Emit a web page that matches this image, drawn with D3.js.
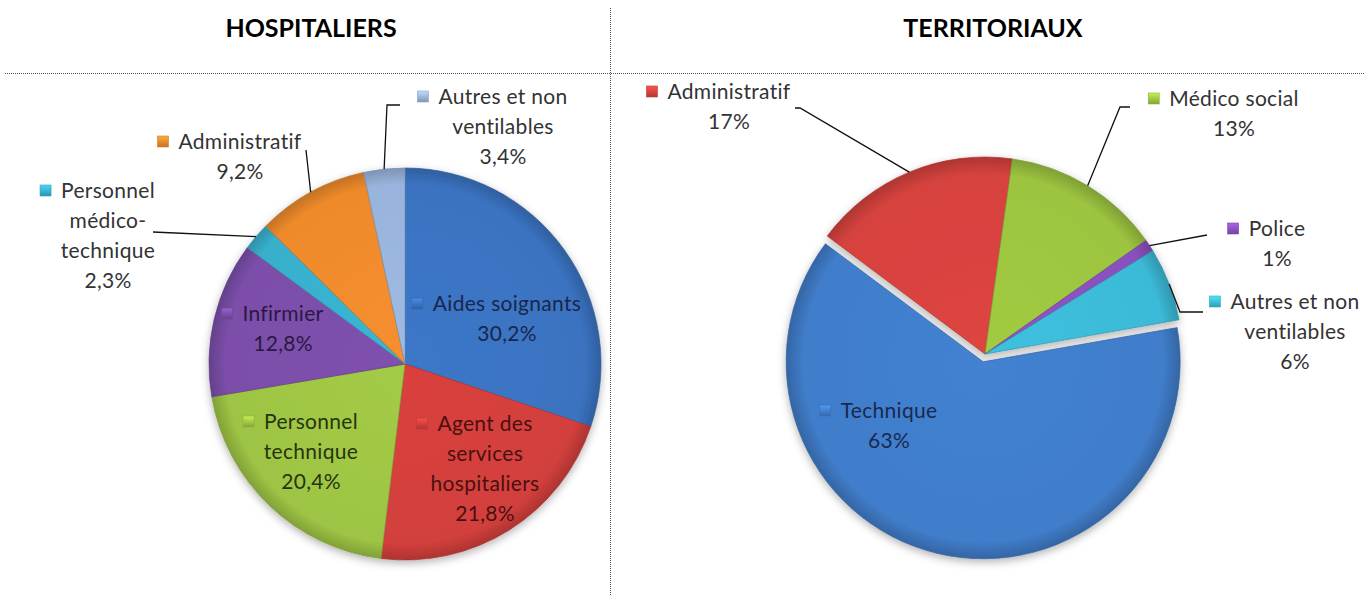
<!DOCTYPE html>
<html>
<head>
<meta charset="utf-8">
<script src="https://cdn.jsdelivr.net/npm/d3@7"></script>
<style>
  body { margin: 0; background: #fff; }
  text { font-family: Lato, "Open Sans", sans-serif; }
</style>
</head>
<body>
<svg id="chart" width="1365" height="595"></svg>
<script>
// chart data
var titles = ['HOSPITALIERS', 'TERRITORIAUX'];

var hospCategories = ['Aides soignants', 'Agent des services hospitaliers', 'Personnel technique',
  'Infirmier', 'Personnel médico-technique', 'Administratif', 'Autres et non ventilables'];
var hospValues = [30.2, 21.8, 20.4, 12.8, 2.3, 9.2, 3.4];
var hospLabelLines = [['Aides soignants'], ['Agent des', 'services', 'hospitaliers'], ['Personnel', 'technique'],
  ['Infirmier'], ['Personnel', 'médico-', 'technique'], ['Administratif'], ['Autres et non', 'ventilables']];

var terrCategories = ['Technique', 'Administratif', 'Médico social', 'Police', 'Autres et non ventilables'];
var terrValues = [63, 17, 13, 1, 6];
var terrLabelLines = [['Technique'], ['Administratif'], ['Médico social'], ['Police'], ['Autres et non', 'ventilables']];

var fr = d3.formatLocale({ decimal: ',', thousands: ' ', grouping: [3], currency: ['', ' €'] });

// layout: label anchor (centre of text, first baseline) relative to pie centre, leader line ends
var hospLayout = {
  center: [405, 364], r: 196, start: 0, fmt: fr.format('.1f'),
  colors: ['#3a73c1', '#d23f3c', '#9ec444', '#7b4ea9', '#38b0cc', '#ee8a2c', '#98b4dc'],
  ink: ['#1a264c', '#4a1010', '#26350f', '#2b1842', '#333', '#333', '#333'],
  labels: [[102, -53], [80, 67], [-94, 65], [-122, -43], [-297, -166], [-165, -215], [98, -260]],
  leaders: [null, null, null, null, { end: [-252, -132] }, { end: [-99, -214] }, { end: [-5, -259], elbow: [-18, -259] }],
  explode: [0, 0, 0, 0, 0, 0, 0]
};

var terrLayout = {
  center: [985, 354], r: 197, start: 80 * Math.PI / 180, fmt: fr.format('d'),
  colors: ['#407dca', '#d6423e', '#9cc440', '#8a50bf', '#3bbad7'],
  ink: ['#1a294f', '#333', '#333', '#333', '#333'],
  labels: [[-96, 64], [-256, -255], [249, -248], [292, -118], [310, -45]],
  leaders: [null, { end: [-190, -246], elbow: [-185, -246] }, { end: [145, -247], elbow: [135, -247] },
    { end: [222, -119] }, { end: [218, -42], elbow: [195, -42] }],
  explode: [8, 0, 0, 0, 0]
};

var svg = d3.select('#chart');
var defs = svg.append('defs');

defs.append('filter')
  .attr('id', 'shadow')
  .attr('x', '-20%').attr('y', '-20%').attr('width', '140%').attr('height', '140%')
  .append('feDropShadow')
  .attr('dx', 0).attr('dy', 3).attr('stdDeviation', 4)
  .attr('flood-color', '#000').attr('flood-opacity', 0.3);

// dividers
svg.append('line')
  .attr('x1', 5).attr('x2', 1365).attr('y1', 73.5).attr('y2', 73.5)
  .attr('stroke', '#555').attr('stroke-dasharray', '1,1');
svg.append('line')
  .attr('x1', 610.5).attr('x2', 610.5).attr('y1', 8).attr('y2', 595)
  .attr('stroke', '#555').attr('stroke-dasharray', '1,1');

svg.selectAll('.title')
  .data(titles)
  .enter().append('text')
  .attr('class', 'title')
  .attr('x', function(d, i) { return i === 0 ? 311 : 993; })
  .attr('y', 37)
  .style('text-anchor', 'middle')
  .style('font-weight', 'bold')
  .style('font-size', '25px')
  .style('fill', '#000')
  .text(function(d) { return d; });

function gradientFor(id, color) {
  var c = d3.color(color);
  var g = defs.append('radialGradient')
    .attr('id', id)
    .attr('gradientUnits', 'userSpaceOnUse')
    .attr('cx', 0).attr('cy', 0).attr('r', 200);
  g.append('stop').attr('offset', '0%').attr('stop-color', c.brighter(0.1));
  g.append('stop').attr('offset', '90%').attr('stop-color', color);
  g.append('stop').attr('offset', '100%').attr('stop-color', c.darker(0.7));
}

function drawPie(name, categories, values, lines, L) {
  var color = d3.scaleOrdinal().domain(categories).range(L.colors);
  var pie = d3.pie().sort(null).value(function(d) { return d; })
    .startAngle(L.start).endAngle(L.start + 2 * Math.PI);
  var arcs = pie(values);
  var arc = d3.arc().innerRadius(0).outerRadius(L.r);

  var g = svg.append('g')
    .attr('transform', 'translate(' + L.center[0] + ',' + L.center[1] + ')');

  categories.forEach(function(c, i) {
    gradientFor(name + '-grad-' + i, color(c));
    var lg = defs.append('linearGradient')
      .attr('id', name + '-key-' + i)
      .attr('x1', 0).attr('y1', 0).attr('x2', 0).attr('y2', 1);
    lg.append('stop').attr('offset', '0%').attr('stop-color', d3.color(color(c)).brighter(0.6));
    lg.append('stop').attr('offset', '100%').attr('stop-color', d3.color(color(c)).darker(0.5));
  });

  function shift(d, i) {
    var a = (d.startAngle + d.endAngle) / 2;
    var e = L.explode[i];
    return [Math.sin(a) * e, -Math.cos(a) * e];
  }

  var slices = g.append('g').attr('filter', 'url(#shadow)');
  slices.selectAll('path')
    .data(arcs)
    .enter().append('path')
    .attr('transform', function(d, i) { var s = shift(d, i); return 'translate(' + s[0] + ',' + s[1] + ')'; })
    .attr('d', arc)
    .attr('fill', function(d, i) { return 'url(#' + name + '-grad-' + i + ')'; })
    .attr('stroke', function(d, i) { return d3.color(color(categories[i])).darker(0.6); })
    .attr('stroke-opacity', 0.7)
    .attr('stroke-width', 1)
    .attr('stroke-linejoin', 'round');

  // leader lines
  arcs.forEach(function(d, i) {
    var ld = L.leaders[i];
    if (!ld) return;
    var a = (d.startAngle + d.endAngle) / 2;
    var s = shift(d, i);
    var pts = [[Math.sin(a) * L.r + s[0], -Math.cos(a) * L.r + s[1]]];
    if (ld.elbow) pts.push(ld.elbow);
    pts.push(ld.end);
    g.append('path')
      .attr('d', d3.line()(pts))
      .attr('fill', 'none')
      .attr('stroke', '#111')
      .attr('stroke-width', 1.3);
  });

  // labels
  arcs.forEach(function(d, i) {
    var pos = L.labels[i];
    var txt = lines[i].concat([L.fmt(values[i]) + '%']);
    var t = g.append('text')
      .style('text-anchor', 'middle')
      .style('font-size', '21px')
      .style('letter-spacing', '0.3px')
      .style('fill', L.ink[i]);
    txt.forEach(function(line, k) {
      t.append('tspan')
        .attr('x', pos[0])
        .attr('y', pos[1] + k * 30)
        .text(line);
    });
    var w = t.select('tspan').node().getComputedTextLength();
    g.append('rect')
      .attr('x', pos[0] - w / 2 - 21)
      .attr('y', pos[1] - 13)
      .attr('width', 11)
      .attr('height', 11)
      .attr('fill', 'url(#' + name + '-key-' + i + ')')
      .attr('stroke', d3.color(color(categories[i])).darker(0.3))
      .attr('stroke-width', 0.6);
  });
}

drawPie('hosp', hospCategories, hospValues, hospLabelLines, hospLayout);
drawPie('terr', terrCategories, terrValues, terrLabelLines, terrLayout);
</script>
</body>
</html>
